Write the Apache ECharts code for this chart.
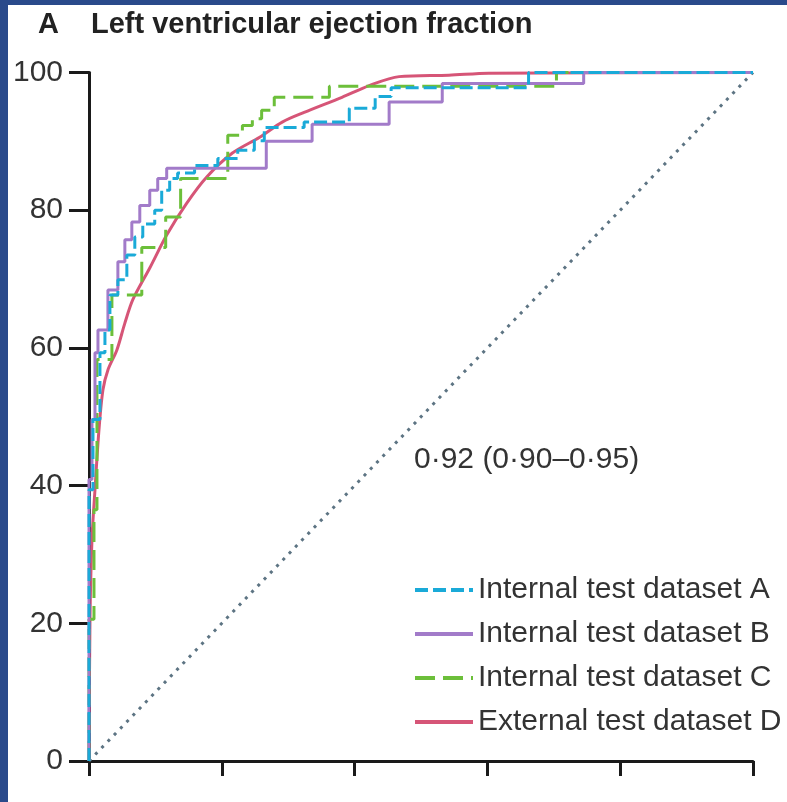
<!DOCTYPE html>
<html>
<head>
<meta charset="utf-8">
<script src="https://cdn.jsdelivr.net/npm/echarts@6/dist/echarts.min.js"></script>
<style>
html,body{margin:0;padding:0;background:#fff;}
#chart{position:absolute;left:0;top:0;width:787px;height:802px;}
.band{position:absolute;background:#2a4a8b;}
</style>
</head>
<body>
<div id="chart"></div>
<div class="band" style="left:0;top:0;width:8px;height:802px;"></div>
<div class="band" style="left:0;top:0;width:787px;height:5px;"></div>
<script>
// Tick values
const xTicks = [0, 20, 40, 60, 80, 100];
const yTicks = [0, 20, 40, 60, 80, 100];

// Internal test dataset A (step: right end of each horizontal run)
const fprA = [0.6, 1.65, 2.4, 3.15, 4.35, 5.7, 6.9, 8.1, 9.9, 10.95, 12.15, 13.35, 15.9, 19.4, 22.4, 24.9, 26.4, 32.4, 39.2, 43.1, 45.5, 66.2, 100];
const tprA = [39.4, 49.6, 59.3, 62.6, 67.7, 69.9, 73.5, 76.1, 78, 80, 82.9, 84.6, 85.4, 86.5, 87.5, 88.7, 90.1, 92, 92.8, 94.8, 96.5, 97.8, 100];

// Internal test dataset B
const fprB = [0.45, 0.9, 1.35, 2.85, 4.35, 5.4, 6.45, 7.65, 9.15, 10.35, 11.7, 26.7, 33.6, 45.2, 53.2, 74.5, 100];
const tprB = [40.9, 49.6, 59.3, 62.6, 68.4, 72.5, 75.7, 78.3, 80.7, 82.9, 84.6, 86.1, 90, 92.5, 95.7, 98.4, 100];

// Internal test dataset C
const fprC = [0.75, 1.2, 3.45, 7.95, 11.55, 13.8, 20.9, 23.1, 24.6, 26, 27.9, 36.2, 70.4, 100];
const tprC = [20.6, 36.5, 58.3, 67.7, 74.6, 79, 84.6, 90.9, 92.3, 93.3, 94.5, 96.4, 98, 100];

// External test dataset D (smooth)
const fprD = [0, 0.15, 0.45, 0.9, 1.5, 2.1, 2.85, 4.2, 5.4, 6.6, 9.15, 11.7, 14.7, 17.7, 21.6, 25.7, 29.1, 32.4, 38.1, 42.2, 46.7, 54.2, 60.2, 100];
const tprD = [0, 20.6, 32.2, 39.4, 48.1, 53.9, 56.8, 59.7, 63.6, 67, 71.6, 76.4, 81, 84.8, 88.3, 90.6, 92.8, 94.2, 96.4, 98.1, 99.4, 99.6, 99.9, 100];

// Chance line
const chanceX = [0, 100];
const chanceY = [0, 100];

const seriesNames = ['Internal test dataset A', 'Internal test dataset B', 'Internal test dataset C', 'External test dataset D'];
const aucText = '0·92 (0·90–0·95)';
const titleLetter = 'A';
const titleText = 'Left ventricular ejection fraction';

const FONT = '"Liberation Sans", Arial, sans-serif';
const zip = (xs, ys, start) => (start ? [[0, 0]] : []).concat(xs.map((x, i) => [x, ys[i]]));

const chart = echarts.init(document.getElementById('chart'), null, {renderer: 'canvas'});
chart.setOption({
  animation: false,
  backgroundColor: '#ffffff',
  title: [
    {text: titleLetter, left: 38, top: 10, padding: 0, textStyle: {fontFamily: FONT, fontSize: 29, fontWeight: 'bold', color: '#222'}},
    {text: titleText, left: 91, top: 10, padding: 0, textStyle: {fontFamily: FONT, fontSize: 29, fontWeight: 'bold', color: '#222'}}
  ],
  grid: {left: 89, right: 34, top: 72.5, bottom: 41, containLabel: false},
  xAxis: {
    type: 'value', min: xTicks[0], max: xTicks[xTicks.length - 1], interval: 20,
    axisLine: {show: true, lineStyle: {color: '#1a1a1a', width: 3}},
    axisTick: {show: true, inside: false, length: 15, lineStyle: {color: '#1a1a1a', width: 3}},
    axisLabel: {show: false},
    splitLine: {show: false}
  },
  yAxis: {
    type: 'value', min: yTicks[0], max: yTicks[yTicks.length - 1], interval: 20,
    axisLine: {show: true, lineStyle: {color: '#1a1a1a', width: 3}},
    axisTick: {show: true, inside: false, length: 20, lineStyle: {color: '#1a1a1a', width: 3}},
    axisLabel: {show: true, margin: 26, fontFamily: FONT, fontSize: 30, color: '#333'},
    splitLine: {show: false}
  },
  legend: {
    orient: 'vertical', left: 408, top: 570, itemWidth: 58, itemHeight: 14, itemGap: 14,
    data: seriesNames,
    itemStyle: {opacity: 0},
    lineStyle: {width: 4},
    textStyle: {fontFamily: FONT, fontSize: 30, color: '#333'}
  },
  graphic: [
    {type: 'text', left: 414, top: 445, style: {text: aucText, font: '30px ' + FONT, fill: '#333'}}
  ],
  series: [
    {type: 'line', name: 'chance', data: zip(chanceX, chanceY), symbol: 'none', silent: true,
      lineStyle: {color: '#5d7483', width: 3, type: [3, 6]}, z: 1},
    {type: 'line', name: seriesNames[3], data: zip(fprD, tprD), symbol: 'none', smooth: 0.3,
      color: '#c8174a', lineStyle: {color: '#cc2a55', width: 3, opacity: 0.8}, z: 2},
    {type: 'line', name: seriesNames[2], data: zip(fprC, tprC, true), step: 'start', symbol: 'none',
      color: '#6cbf3a', lineStyle: {color: '#6cbf3a', width: 3, type: [20, 8]}, z: 3},
    {type: 'line', name: seriesNames[1], data: zip(fprB, tprB, true), step: 'start', symbol: 'none',
      color: '#a27bc9', lineStyle: {color: '#a27bc9', width: 3}, z: 4},
    {type: 'line', name: seriesNames[0], data: zip(fprA, tprA, true), step: 'start', symbol: 'none',
      color: '#1aaad8', lineStyle: {color: '#1aaad8', width: 3, type: [13, 5]}, z: 5}
  ]
});
</script>
</body>
</html>
